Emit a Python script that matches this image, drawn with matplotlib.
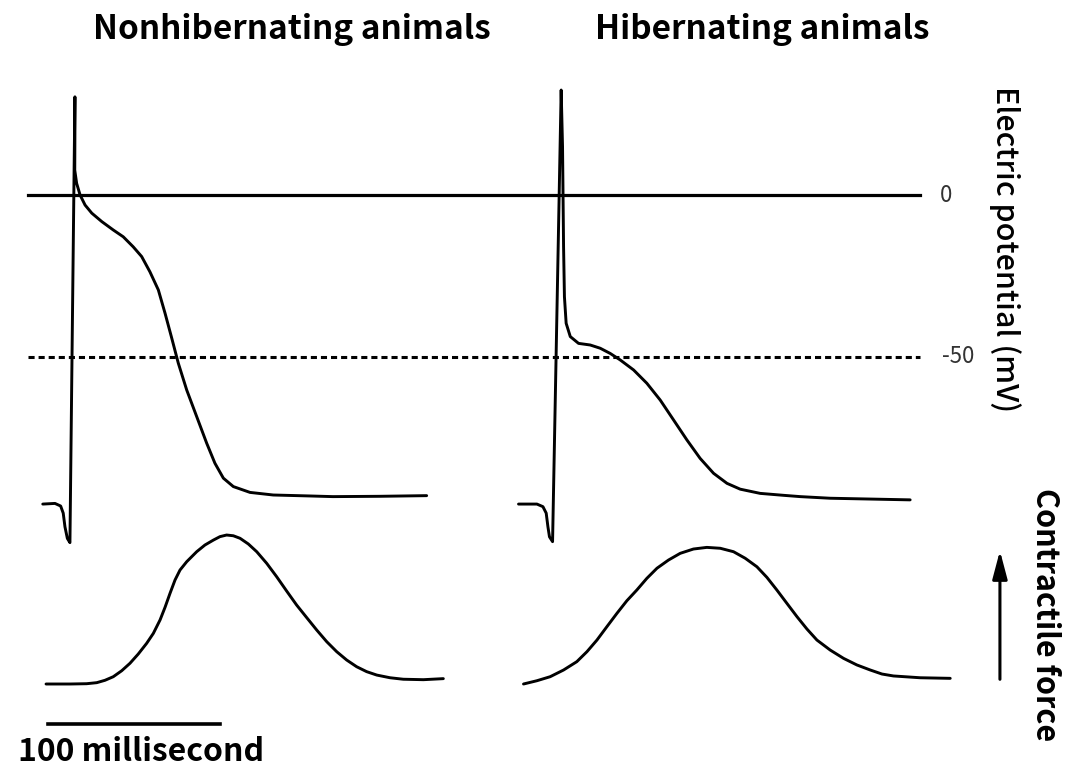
import matplotlib.pyplot as plt
import numpy as np

plt.rcParams['font.family'] = ['Noto Sans CJK JP', 'DejaVu Sans']

# membrane potential traces, time in ms from the upstroke, potential in mV
t_ap_non = [-17.0, -9.9, -6.6, -5.1, -4.1, -2.7, -1.2, 1.7, 1.7, 1.6, 2.7, 4.7, 7.6,
            11.5, 17.3, 24.0, 29.8, 35.6, 40.5, 45.3, 50.2, 54.1, 58.0, 61.8,
            66.7, 72.5, 78.3, 83.1, 88.0, 93.8, 103.5, 117.0, 138.4, 151.7,
            179.1, 206.2]
v_ap_non = [-95.4, -95.2, -96.0, -98.2, -102.4, -106.0, -107.3, 30.3, 20.2, 7.7,
            3.6, 0.0, -3.1, -5.6, -8.2, -10.8, -12.9, -16.0, -19.0, -23.7, -29.3,
            -36.5, -44.2, -51.9, -60.2, -68.4, -76.6, -82.8, -87.4, -90.0, -91.8,
            -92.6, -92.9, -93.1, -93.0, -92.8]

t_ap_hib = [-25.4, -14.7, -11.2, -9.3, -8.3, -7.4, -5.6, -0.6, 0.2, 0.8, 1.3, 2.3,
            4.7, 9.5, 16.3, 22.1, 27.9, 33.7, 41.5, 49.2, 57.0, 64.7, 72.5, 80.2,
            88.0, 95.8, 103.5, 115.1, 128.7, 138.4, 155.8, 202.3]
v_ap_hib = [-95.4, -95.4, -96.2, -98.2, -102.4, -105.5, -107.0, 32.4, 14.9, -16.0,
            -31.4, -39.6, -43.7, -45.8, -46.3, -47.3, -48.9, -50.9, -54.0, -58.1,
            -63.3, -69.4, -75.6, -81.3, -85.9, -89.0, -90.8, -92.1, -92.7, -93.1,
            -93.6, -94.1]

# contractile force traces (arbitrary units, peak of nonhibernating = 100)
t_f_non = [-15.1, -1.2, 8.5, 14.4, 19.2, 24.0, 28.9, 33.7, 38.5, 43.4, 47.3, 51.2,
           54.1, 57.0, 59.9, 62.8, 66.7, 72.5, 77.3, 82.2, 86.0, 89.9, 93.8, 97.7,
           102.5, 107.4, 113.2, 119.0, 124.8, 130.6, 136.5, 142.3, 148.1, 153.9,
           159.7, 165.5, 171.3, 177.2, 184.9, 192.6, 204.3, 215.9]
f_non = [0, 0, 0.2, 0.9, 2.5, 4.9, 8.9, 13.9, 20.1, 27.3, 34.0, 43.0, 51.5, 60.9,
         69.8, 76.5, 82.1, 88.8, 93.3, 96.6, 98.9, 100, 99.5, 97.8, 94.0, 88.8,
         81.0, 72.0, 62.4, 53.0, 44.5, 36.2, 28.4, 21.7, 16.1, 11.6, 8.3, 6.0,
         4.2, 3.2, 2.9, 3.6]

t_f_hib = [-22.5, -14.7, -7.0, 0.8, 8.5, 14.4, 20.2, 26.0, 31.8, 37.6, 43.4, 49.2,
           55.1, 61.8, 68.6, 76.3, 84.1, 91.9, 99.6, 106.4, 113.2, 119.0, 124.8,
           130.6, 136.5, 142.3, 148.1, 155.8, 163.6, 171.3, 179.1, 185.9, 192.6,
           208.1, 225.6]
f_hib = [0, 2.2, 4.9, 9.4, 15.0, 21.7, 29.5, 38.5, 47.4, 55.9, 63.1, 70.9, 77.7,
         83.2, 87.7, 90.6, 91.7, 91.1, 88.8, 84.4, 78.7, 71.6, 63.1, 54.2, 45.2,
         36.9, 29.5, 22.8, 17.2, 12.8, 9.4, 6.7, 5.4, 4.2, 3.8]

hib_offset = 285  # ms shift of the right-hand panel
ref_levels = [0, -50]
ref_labels = ['0', '-50']
scale_ms = 100

fig = plt.figure(figsize=(10.65, 7.72), dpi=100)
ax_v = fig.add_axes([0, 0, 1, 1])
ax_f = fig.add_axes([0, 0, 1, 1])
for ax in (ax_v, ax_f):
    ax.set_axis_off()
    ax.patch.set_alpha(0)
    ax.set_xlim(-41.86, 577.33)
ax_v.set_ylim(-178.1, 60.19)
ax_f.set_ylim(-59.06, 459.1)

lw = 2.1
style = dict(color='black', lw=lw, solid_joinstyle='round', solid_capstyle='round')
ax_v.plot([-25.6, 493], [ref_levels[0]] * 2, color='black', lw=2.3)
ax_v.plot([-25.6, 493], [ref_levels[1]] * 2, color='black', lw=2.2, dashes=(2.0, 1.3))
ax_v.text(508, ref_levels[0], ref_labels[0], ha='center', va='center', fontsize=16,
          color='#333333')
ax_v.text(515, ref_levels[1], ref_labels[1], ha='center', va='center', fontsize=16,
          color='#333333')

ax_v.plot(t_ap_non, v_ap_non, **style)
ax_v.plot(np.array(t_ap_hib) + hib_offset, v_ap_hib, **style)
ax_f.plot(t_f_non, f_non, **style)
ax_f.plot(np.array(t_f_hib) + hib_offset, f_hib, **style)

# 100 ms scale bar
ax_f.plot([-14, -14 + scale_ms], [-27, -27], color='black', lw=2.6)

# force arrow
ax_f.annotate('', xy=(539.5, 91.3), xytext=(539.5, 1.3),
              arrowprops=dict(arrowstyle='-|>,head_width=0.45,head_length=1.7',
                              color='black', lw=2.2))

fig.text(292 / 1065, 1 - 29 / 772, 'Nonhibernating animals', ha='center', va='center',
         fontsize=24, fontweight='bold')
fig.text(762 / 1065, 1 - 29 / 772, 'Hibernating animals', ha='center', va='center',
         fontsize=24, fontweight='bold')
fig.text(141 / 1065, 1 - 752 / 772, '100 millisecond', ha='center', va='center',
         fontsize=23, fontweight='bold')
fig.text(1005 / 1065, 1 - 249 / 772, 'Electric potential (mV)', ha='center', va='center',
         rotation=-90, fontsize=22, fontweight='medium')
fig.text(1045 / 1065, 1 - 615 / 772, 'Contractile force', ha='center', va='center',
         rotation=-90, fontsize=22, fontweight='bold')

fig.savefig('out.png', dpi=100)
